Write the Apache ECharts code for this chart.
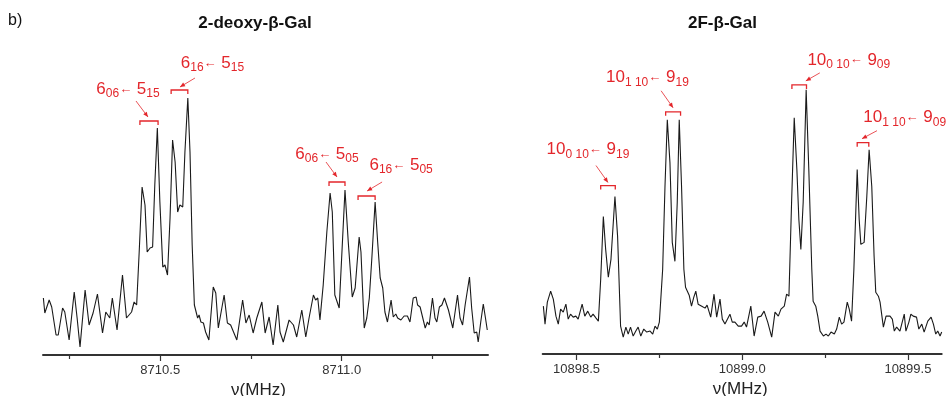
<!DOCTYPE html>
<html><head><meta charset="utf-8">
<script src="https://cdn.jsdelivr.net/npm/echarts@6/dist/echarts.min.js"></script>
<style>html,body{margin:0;padding:0;background:#fff}#c{width:947px;height:396px}</style>
</head><body><div id="c"></div>
<script>
// ---------- DATA ----------
// 2-deoxy-β-Gal spectrum: frequency offset (kHz above 8710 MHz) and intensity (arb. units)
const deoxyFreqKHz = [178,182,194,201,213,219,231,237,249,263,271,279,293,304,315,327,341,350,361,368,381,396,407,421,428,435,442,450,458,464,472,479,485,492,499,507,513,520,527,534,541,548,554,562,568,576,582,588,594,598,603,607,612,619,625,634,646,653,660,676,685,694,711,727,736,745,756,766,780,789,800,811,824,830,839,855,867,876,890,901,910,922,928,934,940,949,959,968,974,981,993,1009,1018,1029,1037,1048,1053,1062,1069,1076,1083,1092,1099,1106,1113,1119,1126,1136,1142,1149,1154,1163,1172,1181,1188,1197,1205,1209,1216,1230,1236,1241,1250,1257,1262,1269,1276,1283,1294,1306,1319,1326,1333,1340,1352,1358,1365,1372,1376,1383,1390,1396,1401];
const deoxyIntensity = [57,42,55,48,20,20,47,43,15,63,37,8,65,30,42,61,22,43,37,57,25,80,37,43,53,50,103,168,150,103,107,108,170,227,153,88,90,80,137,215,193,143,150,148,203,257,203,110,50,48,37,40,33,32,23,15,68,62,27,60,32,30,15,55,32,40,22,37,53,22,38,10,50,23,13,35,30,18,45,18,37,60,55,57,35,70,123,162,143,60,47,165,113,58,67,118,103,27,37,57,97,153,113,77,67,43,33,55,38,41,37,35,39,39,33,57,58,50,48,27,33,30,57,37,33,48,50,57,45,27,60,37,30,50,78,47,22,23,13,33,51,37,25];
// 2F-β-Gal spectrum: frequency offset (kHz above 10898 MHz) and intensity
const fluoroFreqKHz = [400,405,412,422,430,438,445,452,460,468,475,482,490,498,505,517,525,534,543,550,559,566,573,581,588,596,604,616,624,633,641,649,656,663,671,679,686,694,703,712,722,730,737,744,750,760,767,774,782,789,797,804,810,817,824,829,835,840,847,854,860,867,878,888,894,905,915,923,933,940,948,963,970,978,988,998,1006,1013,1026,1036,1047,1057,1066,1077,1089,1099,1109,1117,1127,1134,1141,1149,1157,1165,1171,1177,1184,1193,1201,1210,1214,1222,1228,1235,1245,1253,1260,1268,1278,1285,1293,1300,1307,1317,1323,1330,1337,1347,1353,1358,1368,1376,1383,1391,1398,1403,1411,1416,1426,1434,1446,1453,1459,1466,1476,1489,1494,1503,1509,1516,1526,1533,1542,1549,1560,1570,1577,1584,1590,1597,1602];
const fluoroIntensity = [48,30,52,63,55,38,30,45,42,50,35,40,37,38,35,50,38,43,37,40,36,33,75,138,105,77,95,158,118,28,17,27,20,27,18,23,27,18,25,22,23,20,28,25,32,85,168,235,192,112,93,152,235,168,85,67,67,59,48,57,63,50,48,46,49,37,60,37,55,35,30,40,32,32,28,28,32,27,48,18,37,38,43,32,17,42,38,45,48,60,58,152,237,185,135,105,152,265,185,85,53,48,38,23,18,20,18,22,20,25,37,30,32,52,45,33,85,185,135,110,112,158,205,168,98,62,58,52,27,38,38,35,23,27,23,40,23,32,40,38,37,25,30,22,33,37,30,20,23,18,22];

const deoxyBaseMHz = 8710;
const fluoroBaseMHz = 10898;
const deoxyRange = [8710.177, 8711.403];
const fluoroRange = [10898.398, 10899.602];
const deoxyMinorTicks = [8710.25, 8710.75, 8711.25];
const deoxyTickLabels = [8710.5, 8711.0];
const fluoroMinorTicks = [10898.75, 10899.25];
const fluoroTickLabels = [10898.5, 10899.0, 10899.5];

const panelTitles = ['2-deoxy-β-Gal', '2F-β-Gal'];
const axisTitle = 'ν(MHz)';

// Transition assignments: upper level, lower level, bracketed doublet (MHz)
const deoxyUpper = [['6','06'], ['6','16'], ['6','06'], ['6','16']];
const deoxyLower = [['5','15'], ['5','15'], ['5','05'], ['5','05']];
const deoxyDoublets = [[8710.444, 8710.494], [8710.530, 8710.576], [8710.965, 8711.009], [8711.045, 8711.092]];
const fluoroUpper = [['10','0 10'], ['10','1 10'], ['10','0 10'], ['10','1 10']];
const fluoroLower = [['9','19'], ['9','19'], ['9','09'], ['9','09']];
const fluoroDoublets = [[10898.573, 10898.617], [10898.769, 10898.814], [10899.150, 10899.194], [10899.347, 10899.382]];

// ---------- LAYOUT (pixel offsets of labels/arrows relative to each bracket) ----------
const layouts = [
  [ {lab:[-21,-32], a0:[-13,-20], a1:[-1,-4], gap:7},
    {lab:[33,-27],  a0:[15.5,-12], a1:[0.5,-3], gap:8},
    {lab:[-10,-28], a0:[-11,-20], a1:[0,-5], gap:8},
    {lab:[34.5,-31],a0:[15.5,-14], a1:[0.5,-5], gap:6} ],
  [ {lab:[-20,-36], a0:[-12,-20], a1:[0,-3], gap:11},
    {lab:[-25.7,-34], a0:[-12,-21], a1:[0,-4], gap:8},
    {lab:[49.6,-25], a0:[20.6,-12], a1:[6.6,-4], gap:5},
    {lab:[41.7,-25], a0:[14,-12], a1:[-1,-4], gap:7} ]
];

const RED = '#e3262b';
const FONT = 'Liberation Sans';

const deoxyData = deoxyFreqKHz.map((k, i) => [deoxyBaseMHz + k / 1000, deoxyIntensity[i]]);
const fluoroData = fluoroFreqKHz.map((k, i) => [fluoroBaseMHz + k / 1000, fluoroIntensity[i]]);

function xAxisMain(gridIndex, range, labels, namePad) {
  return {
    type: 'value', gridIndex, min: range[0], max: range[1], scale: true,
    splitLine: {show: false},
    axisLine: {show: true, onZero: false, lineStyle: {color: '#333', width: 2}},
    axisTick: {show: true, customValues: labels, length: 6, lineStyle: {color: '#333', width: 1.2}},
    axisLabel: {customValues: labels, formatter: v => v.toFixed(1), color: '#333', fontSize: 13, margin: 9, fontFamily: FONT},
    name: axisTitle, nameLocation: 'middle', nameGap: 25,
    nameTextStyle: {fontSize: 17, color: '#222', fontFamily: FONT, padding: namePad}
  };
}
function xAxisMinor(gridIndex, range, ticks) {
  return {
    type: 'value', gridIndex, min: range[0], max: range[1], scale: true, position: 'bottom',
    splitLine: {show: false},
    axisLine: {show: false, onZero: false},
    axisTick: {show: true, customValues: ticks, length: 4, lineStyle: {color: '#333', width: 1.2}},
    axisLabel: {show: false}
  };
}

const chart = echarts.init(document.getElementById('c'));
chart.setOption({
  animation: false,
  grid: [{left: 43, right: 459, top: 55, bottom: 41, containLabel: false, outerBoundsMode: 'none'},
         {left: 542.7, right: 5.3, top: 55, bottom: 42, containLabel: false, outerBoundsMode: 'none'}],
  xAxis: [xAxisMain(0, deoxyRange, deoxyTickLabels, [0, 14, 0, 0]),
          xAxisMain(1, fluoroRange, fluoroTickLabels, [0, 4, 0, 0]),
          xAxisMinor(0, deoxyRange, deoxyMinorTicks),
          xAxisMinor(1, fluoroRange, fluoroMinorTicks)],
  yAxis: [{type: 'value', gridIndex: 0, min: 0, max: 300, show: false},
          {type: 'value', gridIndex: 1, min: 0, max: 300, show: false}],
  series: [
    {type: 'line', xAxisIndex: 0, yAxisIndex: 0, data: deoxyData, symbol: 'none', silent: true, lineStyle: {color: '#1a1a1a', width: 1.1}},
    {type: 'line', xAxisIndex: 1, yAxisIndex: 1, data: fluoroData, symbol: 'none', silent: true, lineStyle: {color: '#1a1a1a', width: 1.1}}
  ]
});

const rich = {
  n: {fontSize: 17, lineHeight: 22, fill: RED, color: RED, fontFamily: FONT},
  s: {fontSize: 12, lineHeight: 14, verticalAlign: 'bottom', fill: RED, color: RED, fontFamily: FONT},
  ar: {fontSize: 13, lineHeight: 22, fill: RED, color: RED, fontFamily: FONT}
};

const graphics = [
  {type: 'text', left: 8, top: 13, style: {text: 'b)', fontSize: 16, fill: '#111', fontFamily: FONT}},
  {type: 'text', x: 255, y: 23.5, style: {text: panelTitles[0], fontSize: 17, fontWeight: 'bold', fill: '#111', fontFamily: FONT, align: 'center', verticalAlign: 'middle'}},
  {type: 'text', x: 722.5, y: 23, style: {text: panelTitles[1], fontSize: 17, fontWeight: 'bold', fill: '#111', fontFamily: FONT, align: 'center', verticalAlign: 'middle'}}
];

const panels = [
  {data: deoxyData, upper: deoxyUpper, lower: deoxyLower, doublets: deoxyDoublets},
  {data: fluoroData, upper: fluoroUpper, lower: fluoroLower, doublets: fluoroDoublets}
];
panels.forEach((p, gi) => {
  p.doublets.forEach((d, i) => {
    const L = layouts[gi][i];
    let peak = 0;
    p.data.forEach(pt => { if (pt[0] >= d[0] - 0.004 && pt[0] <= d[1] + 0.004) peak = Math.max(peak, pt[1]); });
    const pa = chart.convertToPixel({gridIndex: gi}, [d[0], peak]);
    const pb = chart.convertToPixel({gridIndex: gi}, [d[1], peak]);
    const by = pa[1] - L.gap;
    const cx = (pa[0] + pb[0]) / 2;
    graphics.push({type: 'polyline', silent: true, shape: {points: [[pa[0], by + 4], [pa[0], by], [pb[0], by], [pb[0], by + 4]]}, style: {stroke: RED, lineWidth: 1.3, fill: null}});
    const x0 = cx + L.a0[0], y0 = by + L.a0[1], x1 = cx + L.a1[0], y1 = by + L.a1[1];
    graphics.push({type: 'line', silent: true, shape: {x1: x0, y1: y0, x2: x1, y2: y1}, style: {stroke: RED, lineWidth: 0.8}});
    const ang = Math.atan2(y1 - y0, x1 - x0), hl = 5, hw = 2.2;
    const bx = x1 - hl * Math.cos(ang), byy = y1 - hl * Math.sin(ang);
    graphics.push({type: 'polygon', silent: true, shape: {points: [[x1, y1], [bx + hw * Math.sin(ang), byy - hw * Math.cos(ang)], [bx - hw * Math.sin(ang), byy + hw * Math.cos(ang)]]}, style: {fill: RED}});
    const u = p.upper[i], lo = p.lower[i];
    graphics.push({type: 'text', silent: true, x: cx + L.lab[0], y: by + L.lab[1],
      style: {text: `{n|${u[0]}}{s|${u[1]}}{ar|←}{n| ${lo[0]}}{s|${lo[1]}}`, rich, fill: RED, align: 'center', verticalAlign: 'middle'}});
  });
});
chart.setOption({graphic: graphics});
</script>
</body></html>
